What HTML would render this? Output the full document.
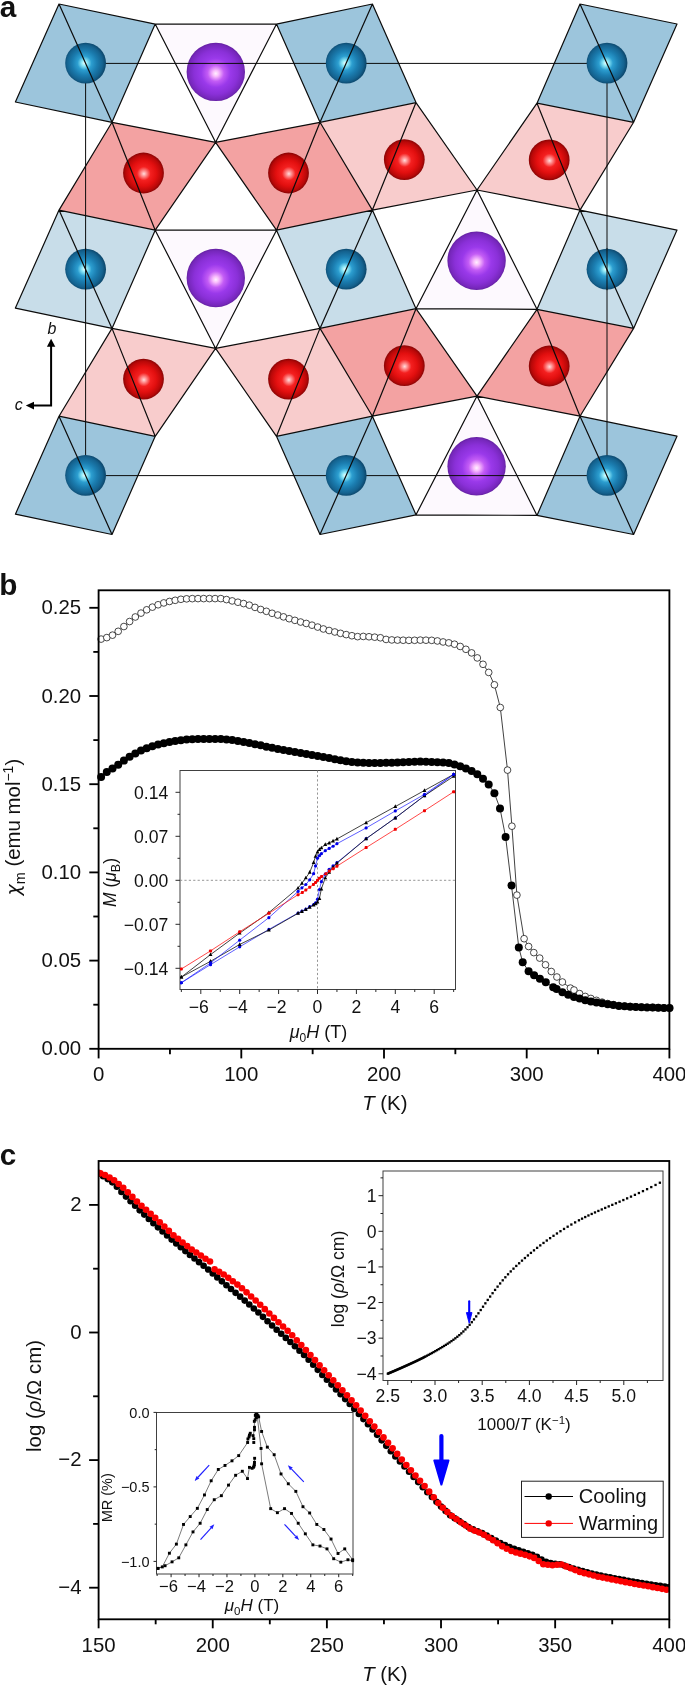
<!DOCTYPE html>
<html><head><meta charset="utf-8"><title>figure</title>
<style>
html,body{margin:0;padding:0;background:#fff;}
svg{display:block;will-change:transform;}
text{font-family:"Liberation Sans", sans-serif;fill:#111;}
.it{font-style:italic;}
</style></head>
<body>
<svg width="685" height="1685" viewBox="0 0 685 1685">
<defs>
<radialGradient id="gB" cx="0.48" cy="0.5" r="0.52" fx="0.47" fy="0.5">
<stop offset="0" stop-color="#eaffff"/><stop offset="0.13" stop-color="#8ee9f8"/>
<stop offset="0.33" stop-color="#2c9ed0"/><stop offset="0.58" stop-color="#1b7db0"/>
<stop offset="0.84" stop-color="#14628f"/><stop offset="1" stop-color="#0b4468"/>
</radialGradient>
<radialGradient id="gR" cx="0.5" cy="0.5" r="0.52" fx="0.51" fy="0.52">
<stop offset="0" stop-color="#ffdcdc"/><stop offset="0.12" stop-color="#ff9393"/>
<stop offset="0.32" stop-color="#f42020"/><stop offset="0.6" stop-color="#e20f0f"/>
<stop offset="0.84" stop-color="#b90808"/><stop offset="1" stop-color="#7a0303"/>
</radialGradient>
<radialGradient id="gP" cx="0.5" cy="0.5" r="0.52" fx="0.5" fy="0.53">
<stop offset="0" stop-color="#fff0ff"/><stop offset="0.10" stop-color="#f9bdfc"/>
<stop offset="0.27" stop-color="#c35cf5"/><stop offset="0.48" stop-color="#9a39ea"/>
<stop offset="0.72" stop-color="#8a30d8"/><stop offset="0.9" stop-color="#7627bb"/><stop offset="1" stop-color="#5a1d93"/>
</radialGradient>
</defs>
<g id="panelA">
<g stroke="none">
<polygon points="155.2,24.1 276.5,24.1 215.6,142.3" fill="#fdf9fe"/>
<polygon points="155.2,230.2 276.5,230.2 215.6,348.4" fill="#fdf9fe"/>
<polygon points="477,190 416,308.7 537,309.3" fill="#fdf9fe"/>
<polygon points="477,396.1 416,514.8 537,515.4" fill="#fdf9fe"/>
<polygon points="59,4 155.2,24.1 112,122.3 15.4,102" fill="#9cc5dc"/>
<polygon points="276.5,24.1 372.4,4 416,102.6 320,122.3" fill="#9cc5dc"/>
<polygon points="580,4 677,24 633.6,122.3 537,103.2" fill="#9cc5dc"/>
<polygon points="59,210.1 155.2,230.2 112,328.4 15.4,308.1" fill="#c8dde9"/>
<polygon points="276.5,230.2 372.4,210.1 416,308.7 320,328.4" fill="#c8dde9"/>
<polygon points="580,210.1 677,230.1 633.6,328.4 537,309.3" fill="#c8dde9"/>
<polygon points="59,416.2 155.2,436.3 112,534.5 15.4,514.2" fill="#9cc5dc"/>
<polygon points="276.5,436.3 372.4,416.2 416,514.8 320,534.5" fill="#9cc5dc"/>
<polygon points="580,416.2 677,436.2 633.6,534.5 537,515.4" fill="#9cc5dc"/>
<polygon points="112,122.3 215.6,142.3 155.2,230.2 59,210.1" fill="#f3a2a2"/>
<polygon points="215.6,142.3 320,122.3 372.4,210.1 276.5,230.2" fill="#f3a2a2"/>
<polygon points="320,122.3 416,102.6 477,190 372.4,210.1" fill="#f8cccc"/>
<polygon points="537,103.2 633.6,122.3 580,210.1 477,190" fill="#f8cccc"/>
<polygon points="112,328.4 215.6,348.4 155.2,436.3 59,416.2" fill="#f8cccc"/>
<polygon points="215.6,348.4 320,328.4 372.4,416.2 276.5,436.3" fill="#f8cccc"/>
<polygon points="320,328.4 416,308.7 477,396.1 372.4,416.2" fill="#f3a2a2"/>
<polygon points="537,309.3 633.6,328.4 580,416.2 477,396.1" fill="#f3a2a2"/>
</g>
<circle cx="215.8" cy="71.9" r="29.2" fill="url(#gP)"/>
<circle cx="215.8" cy="278" r="29.2" fill="url(#gP)"/>
<circle cx="476.6" cy="260.7" r="29.2" fill="url(#gP)"/>
<circle cx="476.6" cy="466.3" r="29.2" fill="url(#gP)"/>
<rect x="85.6" y="63.4" width="521.4" height="412.2" fill="none" stroke="#0c0c0c" stroke-width="1.0"/>
<circle cx="85.6" cy="63.1" r="20.4" fill="url(#gB)"/>
<circle cx="346.2" cy="63.1" r="20.4" fill="url(#gB)"/>
<circle cx="607" cy="63.1" r="20.4" fill="url(#gB)"/>
<circle cx="85.6" cy="269.2" r="20.4" fill="url(#gB)"/>
<circle cx="346.2" cy="269.2" r="20.4" fill="url(#gB)"/>
<circle cx="607" cy="269.2" r="20.4" fill="url(#gB)"/>
<circle cx="85.6" cy="475.3" r="20.4" fill="url(#gB)"/>
<circle cx="346.2" cy="475.3" r="20.4" fill="url(#gB)"/>
<circle cx="607" cy="475.3" r="20.4" fill="url(#gB)"/>
<line x1="85.6" y1="248.2" x2="85.6" y2="290.2" stroke="#0c0c0c" stroke-width="1.0"/>
<line x1="607" y1="248.2" x2="607" y2="290.2" stroke="#0c0c0c" stroke-width="1.0"/>
<circle cx="143.5" cy="173" r="20.4" fill="url(#gR)"/>
<circle cx="288.5" cy="173" r="20.4" fill="url(#gR)"/>
<circle cx="404.3" cy="159.6" r="20.4" fill="url(#gR)"/>
<circle cx="549.2" cy="159.9" r="20.4" fill="url(#gR)"/>
<circle cx="143.5" cy="379.1" r="20.4" fill="url(#gR)"/>
<circle cx="288.5" cy="379.1" r="20.4" fill="url(#gR)"/>
<circle cx="404.3" cy="365.7" r="20.4" fill="url(#gR)"/>
<circle cx="549.2" cy="366" r="20.4" fill="url(#gR)"/>
<path fill="none" stroke="#0c0c0c" stroke-width="1.2" stroke-linecap="round" d="M155.2,24.1L276.5,24.1M215.6,142.3L276.5,24.1M155.2,24.1L215.6,142.3M155.2,230.2L276.5,230.2M215.6,348.4L276.5,230.2M155.2,230.2L215.6,348.4M416,308.7L477,190M416,308.7L537,309.3M477,190L537,309.3M416,514.8L477,396.1M416,514.8L537,515.4M477,396.1L537,515.4M59,4L155.2,24.1M112,122.3L155.2,24.1M15.4,102L112,122.3M15.4,102L59,4M59,4L112,122.3M276.5,24.1L372.4,4M372.4,4L416,102.6M320,122.3L416,102.6M276.5,24.1L320,122.3M320,122.3L372.4,4M580,4L677,24M633.6,122.3L677,24M537,103.2L633.6,122.3M537,103.2L580,4M580,4L633.6,122.3M59,210.1L155.2,230.2M112,328.4L155.2,230.2M15.4,308.1L112,328.4M15.4,308.1L59,210.1M59,210.1L112,328.4M276.5,230.2L372.4,210.1M372.4,210.1L416,308.7M320,328.4L416,308.7M276.5,230.2L320,328.4M320,328.4L372.4,210.1M580,210.1L677,230.1M633.6,328.4L677,230.1M537,309.3L633.6,328.4M537,309.3L580,210.1M580,210.1L633.6,328.4M59,416.2L155.2,436.3M112,534.5L155.2,436.3M15.4,514.2L112,534.5M15.4,514.2L59,416.2M59,416.2L112,534.5M276.5,436.3L372.4,416.2M372.4,416.2L416,514.8M320,534.5L416,514.8M276.5,436.3L320,534.5M320,534.5L372.4,416.2M580,416.2L677,436.2M633.6,534.5L677,436.2M537,515.4L633.6,534.5M537,515.4L580,416.2M580,416.2L633.6,534.5M112,122.3L215.6,142.3M155.2,230.2L215.6,142.3M59,210.1L112,122.3M112,122.3L155.2,230.2M215.6,142.3L320,122.3M320,122.3L372.4,210.1M215.6,142.3L276.5,230.2M276.5,230.2L320,122.3M416,102.6L477,190M372.4,210.1L477,190M372.4,210.1L416,102.6M580,210.1L633.6,122.3M477,190L580,210.1M477,190L537,103.2M537,103.2L580,210.1M112,328.4L215.6,348.4M155.2,436.3L215.6,348.4M59,416.2L112,328.4M112,328.4L155.2,436.3M215.6,348.4L320,328.4M320,328.4L372.4,416.2M215.6,348.4L276.5,436.3M276.5,436.3L320,328.4M416,308.7L477,396.1M372.4,416.2L477,396.1M372.4,416.2L416,308.7M580,416.2L633.6,328.4M477,396.1L580,416.2M477,396.1L537,309.3M537,309.3L580,416.2"/>
<g stroke="#000" stroke-width="2" fill="none"><path d="M51.1,346 V405.6 H33"/></g>
<polygon points="51.1,338.8 55.3,346.8 46.9,346.8" fill="#000"/>
<polygon points="25.8,405.6 34,401.8 34,409.4" fill="#000"/>
<text x="47.6" y="334.2" font-size="16" class="it">b</text>
<text x="14.8" y="409.6" font-size="16" class="it">c</text>
<text x="-0.3" y="16.6" font-size="29.7" font-weight="bold" fill="#000">a</text>
</g>
<g id="panelB">
<rect x="180" y="770.5" width="275.5" height="219" fill="#fff" stroke="#404040" stroke-width="1"/>
<g stroke="#8a8a8a" stroke-width="0.9" stroke-dasharray="2.2,2.2" fill="none">
<line x1="317.5" y1="770.5" x2="317.5" y2="989.5"/>
<line x1="180" y1="880.3" x2="455.5" y2="880.3"/>
</g>
<g stroke="#2a2a2a" stroke-width="1" fill="none">
<line x1="181.35" y1="989.5" x2="181.35" y2="992"/>
<line x1="200.8" y1="989.5" x2="200.8" y2="994"/>
<line x1="220.25" y1="989.5" x2="220.25" y2="992"/>
<line x1="239.7" y1="989.5" x2="239.7" y2="994"/>
<line x1="259.15" y1="989.5" x2="259.15" y2="992"/>
<line x1="278.6" y1="989.5" x2="278.6" y2="994"/>
<line x1="298.05" y1="989.5" x2="298.05" y2="992"/>
<line x1="317.5" y1="989.5" x2="317.5" y2="994"/>
<line x1="336.95" y1="989.5" x2="336.95" y2="992"/>
<line x1="356.4" y1="989.5" x2="356.4" y2="994"/>
<line x1="375.85" y1="989.5" x2="375.85" y2="992"/>
<line x1="395.3" y1="989.5" x2="395.3" y2="994"/>
<line x1="414.75" y1="989.5" x2="414.75" y2="992"/>
<line x1="434.2" y1="989.5" x2="434.2" y2="994"/>
<line x1="453.65" y1="989.5" x2="453.65" y2="992"/>
<line x1="175.5" y1="968.3" x2="180" y2="968.3"/>
<line x1="177.5" y1="946.3" x2="180" y2="946.3"/>
<line x1="175.5" y1="924.3" x2="180" y2="924.3"/>
<line x1="177.5" y1="902.3" x2="180" y2="902.3"/>
<line x1="175.5" y1="880.3" x2="180" y2="880.3"/>
<line x1="177.5" y1="858.3" x2="180" y2="858.3"/>
<line x1="175.5" y1="836.3" x2="180" y2="836.3"/>
<line x1="177.5" y1="814.3" x2="180" y2="814.3"/>
<line x1="175.5" y1="792.3" x2="180" y2="792.3"/>
</g>
<text x="198.8" y="1013" font-size="17.6" text-anchor="middle">−6</text>
<text x="237.7" y="1013" font-size="17.6" text-anchor="middle">−4</text>
<text x="276.6" y="1013" font-size="17.6" text-anchor="middle">−2</text>
<text x="317.5" y="1013" font-size="17.6" text-anchor="middle">0</text>
<text x="356.4" y="1013" font-size="17.6" text-anchor="middle">2</text>
<text x="395.3" y="1013" font-size="17.6" text-anchor="middle">4</text>
<text x="434.2" y="1013" font-size="17.6" text-anchor="middle">6</text>
<text x="168.3" y="798.6" font-size="17.6" text-anchor="end">0.14</text>
<text x="168.3" y="842.6" font-size="17.6" text-anchor="end">0.07</text>
<text x="168.3" y="886.6" font-size="17.6" text-anchor="end">0.00</text>
<text x="168.3" y="930.6" font-size="17.6" text-anchor="end">−0.07</text>
<text x="168.3" y="974.6" font-size="17.6" text-anchor="end">−0.14</text>
<text transform="translate(116,882.5) rotate(-90)" font-size="17.5" text-anchor="middle"><tspan class="it">M</tspan> (<tspan class="it">μ</tspan><tspan font-size="12.5" dy="4">B</tspan><tspan dy="-4">)</tspan></text>
<text x="318.5" y="1037.5" font-size="18" text-anchor="middle"><tspan class="it">μ</tspan><tspan font-size="12" dy="4">0</tspan><tspan class="it" dy="-4">H</tspan> (T)</text>
<clipPath id="cpI"><rect x="180" y="770.5" width="277" height="219"/></clipPath>
<g clip-path="url(#cpI)">
<polyline points="453.65,774.39 424.48,795.76 395.3,817.95 366.12,838.69 336.95,862.57 333.06,865.91 329.17,869.24 325.28,874.2 321.39,881.68 319.44,889.48 317.5,899.16 315.56,902.93 313.61,904.5 309.72,906.7 305.83,909.09 301.94,911.1 298.05,912.99 268.88,929.39 239.7,946.87 210.53,964.65 181.35,982.76" fill="none" stroke="#1a1aff" stroke-width="0.7" stroke-linejoin="round"/>
<circle cx="453.65" cy="774.39" r="1.6" fill="#0000e6"/>
<circle cx="424.48" cy="795.76" r="1.6" fill="#0000e6"/>
<circle cx="395.3" cy="817.95" r="1.6" fill="#0000e6"/>
<circle cx="366.12" cy="838.69" r="1.6" fill="#0000e6"/>
<circle cx="336.95" cy="862.57" r="1.6" fill="#0000e6"/>
<circle cx="333.06" cy="865.91" r="1.6" fill="#0000e6"/>
<circle cx="329.17" cy="869.24" r="1.6" fill="#0000e6"/>
<circle cx="325.28" cy="874.2" r="1.6" fill="#0000e6"/>
<circle cx="321.39" cy="881.68" r="1.6" fill="#0000e6"/>
<circle cx="319.44" cy="889.48" r="1.6" fill="#0000e6"/>
<circle cx="317.5" cy="899.16" r="1.6" fill="#0000e6"/>
<circle cx="315.56" cy="902.93" r="1.6" fill="#0000e6"/>
<circle cx="313.61" cy="904.5" r="1.6" fill="#0000e6"/>
<circle cx="309.72" cy="906.7" r="1.6" fill="#0000e6"/>
<circle cx="305.83" cy="909.09" r="1.6" fill="#0000e6"/>
<circle cx="301.94" cy="911.1" r="1.6" fill="#0000e6"/>
<circle cx="298.05" cy="912.99" r="1.6" fill="#0000e6"/>
<circle cx="268.88" cy="929.39" r="1.6" fill="#0000e6"/>
<circle cx="239.7" cy="946.87" r="1.6" fill="#0000e6"/>
<circle cx="210.53" cy="964.65" r="1.6" fill="#0000e6"/>
<circle cx="181.35" cy="982.76" r="1.6" fill="#0000e6"/>
<polyline points="453.65,774.39 424.48,790.48 395.3,806.57 366.12,822.66 336.95,839 333.06,840.95 329.17,842.9 325.28,844.53 321.39,847.87 319.44,849.5 317.5,852.01 315.56,856.23 313.61,862.57 309.72,872.32 305.83,877.85 301.94,883.13 298.05,888.09 268.88,912.61 239.7,933.1 210.53,954.6 181.35,977.1" fill="none" stroke="#111" stroke-width="0.8" stroke-linejoin="round"/>
<polygon points="453.65,772.19 451.75,775.89 455.55,775.89" fill="#000"/>
<polygon points="424.48,788.28 422.58,791.98 426.38,791.98" fill="#000"/>
<polygon points="395.3,804.37 393.4,808.07 397.2,808.07" fill="#000"/>
<polygon points="366.12,820.46 364.23,824.16 368.02,824.16" fill="#000"/>
<polygon points="336.95,836.8 335.05,840.5 338.85,840.5" fill="#000"/>
<polygon points="333.06,838.75 331.16,842.45 334.96,842.45" fill="#000"/>
<polygon points="329.17,840.7 327.27,844.4 331.07,844.4" fill="#000"/>
<polygon points="325.28,842.33 323.38,846.03 327.18,846.03" fill="#000"/>
<polygon points="321.39,845.67 319.49,849.37 323.29,849.37" fill="#000"/>
<polygon points="319.44,847.3 317.55,851 321.34,851" fill="#000"/>
<polygon points="317.5,849.81 315.6,853.51 319.4,853.51" fill="#000"/>
<polygon points="315.56,854.03 313.66,857.73 317.45,857.73" fill="#000"/>
<polygon points="313.61,860.37 311.71,864.07 315.51,864.07" fill="#000"/>
<polygon points="309.72,870.12 307.82,873.82 311.62,873.82" fill="#000"/>
<polygon points="305.83,875.65 303.93,879.35 307.73,879.35" fill="#000"/>
<polygon points="301.94,880.93 300.04,884.63 303.84,884.63" fill="#000"/>
<polygon points="298.05,885.89 296.15,889.59 299.95,889.59" fill="#000"/>
<polygon points="268.88,910.41 266.98,914.11 270.77,914.11" fill="#000"/>
<polygon points="239.7,930.9 237.8,934.6 241.6,934.6" fill="#000"/>
<polygon points="210.53,952.4 208.62,956.1 212.43,956.1" fill="#000"/>
<polygon points="181.35,974.9 179.45,978.6 183.25,978.6" fill="#000"/>
<polyline points="453.65,776.33 424.48,795.76 395.3,817.95 366.12,838.69 336.95,863.14 333.06,867.29 329.17,872.32 325.28,877.85 321.39,888.91 319.44,898.4 317.5,901.99 315.56,903.87 313.61,905 309.72,907.2 305.83,909.47 301.94,911.41 298.05,913.3 268.88,930.08 239.7,944.48 210.53,961.32 181.35,977.1" fill="none" stroke="#111" stroke-width="0.8" stroke-linejoin="round"/>
<polygon points="453.65,774.13 451.75,777.83 455.55,777.83" fill="#000"/>
<polygon points="424.48,793.56 422.58,797.26 426.38,797.26" fill="#000"/>
<polygon points="395.3,815.75 393.4,819.45 397.2,819.45" fill="#000"/>
<polygon points="366.12,836.49 364.23,840.19 368.02,840.19" fill="#000"/>
<polygon points="336.95,860.94 335.05,864.64 338.85,864.64" fill="#000"/>
<polygon points="333.06,865.09 331.16,868.79 334.96,868.79" fill="#000"/>
<polygon points="329.17,870.12 327.27,873.82 331.07,873.82" fill="#000"/>
<polygon points="325.28,875.65 323.38,879.35 327.18,879.35" fill="#000"/>
<polygon points="321.39,886.71 319.49,890.41 323.29,890.41" fill="#000"/>
<polygon points="319.44,896.2 317.55,899.9 321.34,899.9" fill="#000"/>
<polygon points="317.5,899.79 315.6,903.49 319.4,903.49" fill="#000"/>
<polygon points="315.56,901.67 313.66,905.37 317.45,905.37" fill="#000"/>
<polygon points="313.61,902.8 311.71,906.5 315.51,906.5" fill="#000"/>
<polygon points="309.72,905 307.82,908.7 311.62,908.7" fill="#000"/>
<polygon points="305.83,907.27 303.93,910.97 307.73,910.97" fill="#000"/>
<polygon points="301.94,909.21 300.04,912.91 303.84,912.91" fill="#000"/>
<polygon points="298.05,911.1 296.15,914.8 299.95,914.8" fill="#000"/>
<polygon points="268.88,927.88 266.98,931.58 270.77,931.58" fill="#000"/>
<polygon points="239.7,942.28 237.8,945.98 241.6,945.98" fill="#000"/>
<polygon points="210.53,959.12 208.62,962.82 212.43,962.82" fill="#000"/>
<polygon points="181.35,974.9 179.45,978.6 183.25,978.6" fill="#000"/>
<polyline points="453.65,774.39 424.48,794.37 395.3,810.97 366.12,827.94 336.95,843.72 333.06,846.23 329.17,848.43 325.28,850.63 321.39,853.71 319.44,855.66 317.5,858.17 315.56,865.91 313.61,873.7 309.72,879.8 305.83,884.51 301.94,887.84 298.05,891.43 268.88,917.64 239.7,940.14 210.53,962.96 181.35,982.76" fill="none" stroke="#1a1aff" stroke-width="0.7" stroke-linejoin="round"/>
<circle cx="453.65" cy="774.39" r="1.6" fill="#0000e6"/>
<circle cx="424.48" cy="794.37" r="1.6" fill="#0000e6"/>
<circle cx="395.3" cy="810.97" r="1.6" fill="#0000e6"/>
<circle cx="366.12" cy="827.94" r="1.6" fill="#0000e6"/>
<circle cx="336.95" cy="843.72" r="1.6" fill="#0000e6"/>
<circle cx="333.06" cy="846.23" r="1.6" fill="#0000e6"/>
<circle cx="329.17" cy="848.43" r="1.6" fill="#0000e6"/>
<circle cx="325.28" cy="850.63" r="1.6" fill="#0000e6"/>
<circle cx="321.39" cy="853.71" r="1.6" fill="#0000e6"/>
<circle cx="319.44" cy="855.66" r="1.6" fill="#0000e6"/>
<circle cx="317.5" cy="858.17" r="1.6" fill="#0000e6"/>
<circle cx="315.56" cy="865.91" r="1.6" fill="#0000e6"/>
<circle cx="313.61" cy="873.7" r="1.6" fill="#0000e6"/>
<circle cx="309.72" cy="879.8" r="1.6" fill="#0000e6"/>
<circle cx="305.83" cy="884.51" r="1.6" fill="#0000e6"/>
<circle cx="301.94" cy="887.84" r="1.6" fill="#0000e6"/>
<circle cx="298.05" cy="891.43" r="1.6" fill="#0000e6"/>
<circle cx="268.88" cy="917.64" r="1.6" fill="#0000e6"/>
<circle cx="239.7" cy="940.14" r="1.6" fill="#0000e6"/>
<circle cx="210.53" cy="962.96" r="1.6" fill="#0000e6"/>
<circle cx="181.35" cy="982.76" r="1.6" fill="#0000e6"/>
<polyline points="181.35,968.99 210.53,950.89 239.7,931.78 268.88,913.3 298.05,894.69 302.33,892.49 305.83,889.98 309.72,887.21 313.42,884.45 315.56,882.5 317.5,880.3 319.44,878.16 321.58,876.4 325.86,873.64 329.36,871.12 333.25,868.67 336.95,866.16 366.12,847.61 395.3,829.32 424.48,810.72 453.65,791.8" fill="none" stroke="#ff1a1a" stroke-width="0.8" stroke-linejoin="round"/>
<rect x="179.85" y="967.49" width="3" height="3" rx="0.9" fill="#f00000"/>
<rect x="209.03" y="949.39" width="3" height="3" rx="0.9" fill="#f00000"/>
<rect x="238.2" y="930.28" width="3" height="3" rx="0.9" fill="#f00000"/>
<rect x="267.38" y="911.8" width="3" height="3" rx="0.9" fill="#f00000"/>
<rect x="296.55" y="893.19" width="3" height="3" rx="0.9" fill="#f00000"/>
<rect x="300.83" y="890.99" width="3" height="3" rx="0.9" fill="#f00000"/>
<rect x="304.33" y="888.48" width="3" height="3" rx="0.9" fill="#f00000"/>
<rect x="308.22" y="885.71" width="3" height="3" rx="0.9" fill="#f00000"/>
<rect x="311.92" y="882.95" width="3" height="3" rx="0.9" fill="#f00000"/>
<rect x="314.06" y="881" width="3" height="3" rx="0.9" fill="#f00000"/>
<rect x="316" y="878.8" width="3" height="3" rx="0.9" fill="#f00000"/>
<rect x="317.94" y="876.66" width="3" height="3" rx="0.9" fill="#f00000"/>
<rect x="320.08" y="874.9" width="3" height="3" rx="0.9" fill="#f00000"/>
<rect x="324.36" y="872.14" width="3" height="3" rx="0.9" fill="#f00000"/>
<rect x="327.86" y="869.62" width="3" height="3" rx="0.9" fill="#f00000"/>
<rect x="331.75" y="867.17" width="3" height="3" rx="0.9" fill="#f00000"/>
<rect x="335.45" y="864.66" width="3" height="3" rx="0.9" fill="#f00000"/>
<rect x="364.62" y="846.11" width="3" height="3" rx="0.9" fill="#f00000"/>
<rect x="393.8" y="827.82" width="3" height="3" rx="0.9" fill="#f00000"/>
<rect x="422.98" y="809.22" width="3" height="3" rx="0.9" fill="#f00000"/>
<rect x="452.15" y="790.3" width="3" height="3" rx="0.9" fill="#f00000"/>
</g>
<polyline points="101.1,639.1 106.8,637.59 112.5,635.15 118.2,631.33 123.9,626.53 129.6,621.53 135.3,616.98 141,613.11 146.7,609.81 152.4,607.13 158.1,604.76 163.8,602.92 169.5,601.46 175.2,600.31 180.9,599.29 186.6,598.84 192.3,598.65 198,598.6 203.7,598.6 209.4,598.6 215.1,598.6 220.8,598.6 226.5,599.59 232.2,600.91 237.9,602.23 243.6,603.58 249.3,605.16 255,607.39 260.7,609.48 266.4,611.32 272.1,613.28 277.8,615.03 283.5,616.87 289.2,618.71 294.9,620.35 300.6,622.03 306.3,623.46 312,625.18 317.7,627.07 323.4,628.97 329.1,630.5 334.8,631.99 340.5,633.34 346.2,634.6 351.9,635.74 357.6,636.64 363.3,636.44 369,636.76 374.7,637.18 380.4,637.78 386.1,639.44 391.8,639.93 397.5,640.1 403.2,640.23 408.9,640.36 414.6,640.29 420.3,640.12 426,640.21 431.7,640.34 437.4,640.95 443.1,641.95 448.8,642.85 454.5,644.2 460.2,646.46 465.9,649.3 471.6,652.89 477.3,657.91 483,664.3 488.7,672.42 494.4,684.8 500.3,707.5 507.5,770.1 511.9,826.2 516.9,895.1 524.1,938.7 528.6,946.5 533.8,952.6 539.7,958.1 545.5,964.8 551.3,971.5 556.9,977 562.4,982 570.4,988.1 574,990 579.6,993.6 585.22,996.44 590.84,998.45 596.46,1000.38 602.08,1002.13 607.7,1003.55 613.32,1004.59 618.94,1005.51 624.56,1006.14 630.18,1006.47 635.8,1006.77 641.42,1007.05 647.04,1007.27 652.66,1007.48 658.28,1007.7 663.9,1007.91 669.52,1008.1" fill="none" stroke="#111" stroke-width="0.8"/>
<g fill="#fff" stroke="#1a1a1a" stroke-width="0.8">
<circle cx="101.1" cy="639.1" r="3.35"/>
<circle cx="106.8" cy="637.59" r="3.35"/>
<circle cx="112.5" cy="635.15" r="3.35"/>
<circle cx="118.2" cy="631.33" r="3.35"/>
<circle cx="123.9" cy="626.53" r="3.35"/>
<circle cx="129.6" cy="621.53" r="3.35"/>
<circle cx="135.3" cy="616.98" r="3.35"/>
<circle cx="141" cy="613.11" r="3.35"/>
<circle cx="146.7" cy="609.81" r="3.35"/>
<circle cx="152.4" cy="607.13" r="3.35"/>
<circle cx="158.1" cy="604.76" r="3.35"/>
<circle cx="163.8" cy="602.92" r="3.35"/>
<circle cx="169.5" cy="601.46" r="3.35"/>
<circle cx="175.2" cy="600.31" r="3.35"/>
<circle cx="180.9" cy="599.29" r="3.35"/>
<circle cx="186.6" cy="598.84" r="3.35"/>
<circle cx="192.3" cy="598.65" r="3.35"/>
<circle cx="198" cy="598.6" r="3.35"/>
<circle cx="203.7" cy="598.6" r="3.35"/>
<circle cx="209.4" cy="598.6" r="3.35"/>
<circle cx="215.1" cy="598.6" r="3.35"/>
<circle cx="220.8" cy="598.6" r="3.35"/>
<circle cx="226.5" cy="599.59" r="3.35"/>
<circle cx="232.2" cy="600.91" r="3.35"/>
<circle cx="237.9" cy="602.23" r="3.35"/>
<circle cx="243.6" cy="603.58" r="3.35"/>
<circle cx="249.3" cy="605.16" r="3.35"/>
<circle cx="255" cy="607.39" r="3.35"/>
<circle cx="260.7" cy="609.48" r="3.35"/>
<circle cx="266.4" cy="611.32" r="3.35"/>
<circle cx="272.1" cy="613.28" r="3.35"/>
<circle cx="277.8" cy="615.03" r="3.35"/>
<circle cx="283.5" cy="616.87" r="3.35"/>
<circle cx="289.2" cy="618.71" r="3.35"/>
<circle cx="294.9" cy="620.35" r="3.35"/>
<circle cx="300.6" cy="622.03" r="3.35"/>
<circle cx="306.3" cy="623.46" r="3.35"/>
<circle cx="312" cy="625.18" r="3.35"/>
<circle cx="317.7" cy="627.07" r="3.35"/>
<circle cx="323.4" cy="628.97" r="3.35"/>
<circle cx="329.1" cy="630.5" r="3.35"/>
<circle cx="334.8" cy="631.99" r="3.35"/>
<circle cx="340.5" cy="633.34" r="3.35"/>
<circle cx="346.2" cy="634.6" r="3.35"/>
<circle cx="351.9" cy="635.74" r="3.35"/>
<circle cx="357.6" cy="636.64" r="3.35"/>
<circle cx="363.3" cy="636.44" r="3.35"/>
<circle cx="369" cy="636.76" r="3.35"/>
<circle cx="374.7" cy="637.18" r="3.35"/>
<circle cx="380.4" cy="637.78" r="3.35"/>
<circle cx="386.1" cy="639.44" r="3.35"/>
<circle cx="391.8" cy="639.93" r="3.35"/>
<circle cx="397.5" cy="640.1" r="3.35"/>
<circle cx="403.2" cy="640.23" r="3.35"/>
<circle cx="408.9" cy="640.36" r="3.35"/>
<circle cx="414.6" cy="640.29" r="3.35"/>
<circle cx="420.3" cy="640.12" r="3.35"/>
<circle cx="426" cy="640.21" r="3.35"/>
<circle cx="431.7" cy="640.34" r="3.35"/>
<circle cx="437.4" cy="640.95" r="3.35"/>
<circle cx="443.1" cy="641.95" r="3.35"/>
<circle cx="448.8" cy="642.85" r="3.35"/>
<circle cx="454.5" cy="644.2" r="3.35"/>
<circle cx="460.2" cy="646.46" r="3.35"/>
<circle cx="465.9" cy="649.3" r="3.35"/>
<circle cx="471.6" cy="652.89" r="3.35"/>
<circle cx="477.3" cy="657.91" r="3.35"/>
<circle cx="483" cy="664.3" r="3.35"/>
<circle cx="488.7" cy="672.42" r="3.35"/>
<circle cx="494.4" cy="684.8" r="3.35"/>
<circle cx="500.3" cy="707.5" r="3.35"/>
<circle cx="507.5" cy="770.1" r="3.35"/>
<circle cx="511.9" cy="826.2" r="3.35"/>
<circle cx="516.9" cy="895.1" r="3.35"/>
<circle cx="524.1" cy="938.7" r="3.35"/>
<circle cx="528.6" cy="946.5" r="3.35"/>
<circle cx="533.8" cy="952.6" r="3.35"/>
<circle cx="539.7" cy="958.1" r="3.35"/>
<circle cx="545.5" cy="964.8" r="3.35"/>
<circle cx="551.3" cy="971.5" r="3.35"/>
<circle cx="556.9" cy="977" r="3.35"/>
<circle cx="562.4" cy="982" r="3.35"/>
<circle cx="570.4" cy="988.1" r="3.35"/>
<circle cx="574" cy="990" r="3.35"/>
<circle cx="579.6" cy="993.6" r="3.35"/>
<circle cx="585.22" cy="996.44" r="3.35"/>
<circle cx="590.84" cy="998.45" r="3.35"/>
<circle cx="596.46" cy="1000.38" r="3.35"/>
<circle cx="602.08" cy="1002.13" r="3.35"/>
<circle cx="607.7" cy="1003.55" r="3.35"/>
<circle cx="613.32" cy="1004.59" r="3.35"/>
<circle cx="618.94" cy="1005.51" r="3.35"/>
<circle cx="624.56" cy="1006.14" r="3.35"/>
<circle cx="630.18" cy="1006.47" r="3.35"/>
<circle cx="635.8" cy="1006.77" r="3.35"/>
<circle cx="641.42" cy="1007.05" r="3.35"/>
<circle cx="647.04" cy="1007.27" r="3.35"/>
<circle cx="652.66" cy="1007.48" r="3.35"/>
<circle cx="658.28" cy="1007.7" r="3.35"/>
<circle cx="663.9" cy="1007.91" r="3.35"/>
<circle cx="669.52" cy="1008.1" r="3.35"/>
</g>
<polyline points="101.1,777.1 106.8,772.02 112.5,768.57 118.2,764.63 123.9,760.59 129.6,756.81 135.3,753.41 141,750.56 146.7,748.31 152.4,746.37 158.1,744.62 163.8,743.14 169.5,742 175.2,740.99 180.9,740.24 186.6,739.59 192.3,739.2 198,739.1 203.7,739.1 209.4,739.1 215.1,739.1 220.8,739.1 226.5,739.43 232.2,739.97 237.9,740.97 243.6,742.03 249.3,743 255,744.23 260.7,745.29 266.4,746.67 272.1,747.74 277.8,748.99 283.5,749.99 289.2,751.03 294.9,752.04 300.6,753.04 306.3,754.11 312,755.12 317.7,756.08 323.4,757.02 329.1,758.04 334.8,759.19 340.5,760.33 346.2,761.18 351.9,762.03 357.6,762.5 363.3,762.8 369,763 374.7,763 380.4,763 386.1,762.84 391.8,762.67 397.5,762.44 403.2,762.19 408.9,761.96 414.6,761.79 420.3,761.62 426,761.75 431.7,761.92 437.4,762.13 443.1,762.38 448.8,763.04 454.5,764.4 460.2,766.27 465.9,768.39 471.6,770.91 477.3,774.24 483,778.7 488.7,784.55 494.4,793.2 500,808.4 505.6,836.9 511.5,885.5 518.8,947.6 522.7,962.3 528.6,971.2 534.1,975.3 539.9,978.7 545.8,982.3 553.2,987.3 556.6,988.9 562.4,992.3 568.2,994.8 574,997 579.6,998.6 585.22,1000.32 590.84,1001.43 596.46,1002.54 602.08,1003.37 607.7,1004.17 613.32,1004.99 618.94,1005.91 624.56,1006.36 630.18,1006.67 635.8,1006.97 641.42,1007.24 647.04,1007.42 652.66,1007.59 658.28,1007.77 663.9,1007.94 669.52,1008.1" fill="none" stroke="#111" stroke-width="0.8"/>
<g fill="#000">
<circle cx="101.1" cy="777.1" r="4.0"/>
<circle cx="106.8" cy="772.02" r="4.0"/>
<circle cx="112.5" cy="768.57" r="4.0"/>
<circle cx="118.2" cy="764.63" r="4.0"/>
<circle cx="123.9" cy="760.59" r="4.0"/>
<circle cx="129.6" cy="756.81" r="4.0"/>
<circle cx="135.3" cy="753.41" r="4.0"/>
<circle cx="141" cy="750.56" r="4.0"/>
<circle cx="146.7" cy="748.31" r="4.0"/>
<circle cx="152.4" cy="746.37" r="4.0"/>
<circle cx="158.1" cy="744.62" r="4.0"/>
<circle cx="163.8" cy="743.14" r="4.0"/>
<circle cx="169.5" cy="742" r="4.0"/>
<circle cx="175.2" cy="740.99" r="4.0"/>
<circle cx="180.9" cy="740.24" r="4.0"/>
<circle cx="186.6" cy="739.59" r="4.0"/>
<circle cx="192.3" cy="739.2" r="4.0"/>
<circle cx="198" cy="739.1" r="4.0"/>
<circle cx="203.7" cy="739.1" r="4.0"/>
<circle cx="209.4" cy="739.1" r="4.0"/>
<circle cx="215.1" cy="739.1" r="4.0"/>
<circle cx="220.8" cy="739.1" r="4.0"/>
<circle cx="226.5" cy="739.43" r="4.0"/>
<circle cx="232.2" cy="739.97" r="4.0"/>
<circle cx="237.9" cy="740.97" r="4.0"/>
<circle cx="243.6" cy="742.03" r="4.0"/>
<circle cx="249.3" cy="743" r="4.0"/>
<circle cx="255" cy="744.23" r="4.0"/>
<circle cx="260.7" cy="745.29" r="4.0"/>
<circle cx="266.4" cy="746.67" r="4.0"/>
<circle cx="272.1" cy="747.74" r="4.0"/>
<circle cx="277.8" cy="748.99" r="4.0"/>
<circle cx="283.5" cy="749.99" r="4.0"/>
<circle cx="289.2" cy="751.03" r="4.0"/>
<circle cx="294.9" cy="752.04" r="4.0"/>
<circle cx="300.6" cy="753.04" r="4.0"/>
<circle cx="306.3" cy="754.11" r="4.0"/>
<circle cx="312" cy="755.12" r="4.0"/>
<circle cx="317.7" cy="756.08" r="4.0"/>
<circle cx="323.4" cy="757.02" r="4.0"/>
<circle cx="329.1" cy="758.04" r="4.0"/>
<circle cx="334.8" cy="759.19" r="4.0"/>
<circle cx="340.5" cy="760.33" r="4.0"/>
<circle cx="346.2" cy="761.18" r="4.0"/>
<circle cx="351.9" cy="762.03" r="4.0"/>
<circle cx="357.6" cy="762.5" r="4.0"/>
<circle cx="363.3" cy="762.8" r="4.0"/>
<circle cx="369" cy="763" r="4.0"/>
<circle cx="374.7" cy="763" r="4.0"/>
<circle cx="380.4" cy="763" r="4.0"/>
<circle cx="386.1" cy="762.84" r="4.0"/>
<circle cx="391.8" cy="762.67" r="4.0"/>
<circle cx="397.5" cy="762.44" r="4.0"/>
<circle cx="403.2" cy="762.19" r="4.0"/>
<circle cx="408.9" cy="761.96" r="4.0"/>
<circle cx="414.6" cy="761.79" r="4.0"/>
<circle cx="420.3" cy="761.62" r="4.0"/>
<circle cx="426" cy="761.75" r="4.0"/>
<circle cx="431.7" cy="761.92" r="4.0"/>
<circle cx="437.4" cy="762.13" r="4.0"/>
<circle cx="443.1" cy="762.38" r="4.0"/>
<circle cx="448.8" cy="763.04" r="4.0"/>
<circle cx="454.5" cy="764.4" r="4.0"/>
<circle cx="460.2" cy="766.27" r="4.0"/>
<circle cx="465.9" cy="768.39" r="4.0"/>
<circle cx="471.6" cy="770.91" r="4.0"/>
<circle cx="477.3" cy="774.24" r="4.0"/>
<circle cx="483" cy="778.7" r="4.0"/>
<circle cx="488.7" cy="784.55" r="4.0"/>
<circle cx="494.4" cy="793.2" r="4.0"/>
<circle cx="500" cy="808.4" r="4.0"/>
<circle cx="505.6" cy="836.9" r="4.0"/>
<circle cx="511.5" cy="885.5" r="4.0"/>
<circle cx="518.8" cy="947.6" r="4.0"/>
<circle cx="522.7" cy="962.3" r="4.0"/>
<circle cx="528.6" cy="971.2" r="4.0"/>
<circle cx="534.1" cy="975.3" r="4.0"/>
<circle cx="539.9" cy="978.7" r="4.0"/>
<circle cx="545.8" cy="982.3" r="4.0"/>
<circle cx="553.2" cy="987.3" r="4.0"/>
<circle cx="556.6" cy="988.9" r="4.0"/>
<circle cx="562.4" cy="992.3" r="4.0"/>
<circle cx="568.2" cy="994.8" r="4.0"/>
<circle cx="574" cy="997" r="4.0"/>
<circle cx="579.6" cy="998.6" r="4.0"/>
<circle cx="585.22" cy="1000.32" r="4.0"/>
<circle cx="590.84" cy="1001.43" r="4.0"/>
<circle cx="596.46" cy="1002.54" r="4.0"/>
<circle cx="602.08" cy="1003.37" r="4.0"/>
<circle cx="607.7" cy="1004.17" r="4.0"/>
<circle cx="613.32" cy="1004.99" r="4.0"/>
<circle cx="618.94" cy="1005.91" r="4.0"/>
<circle cx="624.56" cy="1006.36" r="4.0"/>
<circle cx="630.18" cy="1006.67" r="4.0"/>
<circle cx="635.8" cy="1006.97" r="4.0"/>
<circle cx="641.42" cy="1007.24" r="4.0"/>
<circle cx="647.04" cy="1007.42" r="4.0"/>
<circle cx="652.66" cy="1007.59" r="4.0"/>
<circle cx="658.28" cy="1007.77" r="4.0"/>
<circle cx="663.9" cy="1007.94" r="4.0"/>
<circle cx="669.52" cy="1008.1" r="4.0"/>
</g>
<rect x="98.6" y="590.3" width="570.8" height="458.5" fill="none" stroke="#000" stroke-width="1.85"/>
<g stroke="#000" stroke-width="1.85" fill="none">
<line x1="98.6" y1="1048.8" x2="98.6" y2="1058.4"/>
<line x1="169.95" y1="1048.8" x2="169.95" y2="1054.2"/>
<line x1="241.3" y1="1048.8" x2="241.3" y2="1058.4"/>
<line x1="312.65" y1="1048.8" x2="312.65" y2="1054.2"/>
<line x1="384" y1="1048.8" x2="384" y2="1058.4"/>
<line x1="455.35" y1="1048.8" x2="455.35" y2="1054.2"/>
<line x1="526.7" y1="1048.8" x2="526.7" y2="1058.4"/>
<line x1="598.05" y1="1048.8" x2="598.05" y2="1054.2"/>
<line x1="669.4" y1="1048.8" x2="669.4" y2="1058.4"/>
<line x1="89.3" y1="1048.8" x2="98.6" y2="1048.8"/>
<line x1="93.3" y1="1004.7" x2="98.6" y2="1004.7"/>
<line x1="89.3" y1="960.6" x2="98.6" y2="960.6"/>
<line x1="93.3" y1="916.5" x2="98.6" y2="916.5"/>
<line x1="89.3" y1="872.4" x2="98.6" y2="872.4"/>
<line x1="93.3" y1="828.3" x2="98.6" y2="828.3"/>
<line x1="89.3" y1="784.2" x2="98.6" y2="784.2"/>
<line x1="93.3" y1="740.1" x2="98.6" y2="740.1"/>
<line x1="89.3" y1="696" x2="98.6" y2="696"/>
<line x1="93.3" y1="651.9" x2="98.6" y2="651.9"/>
<line x1="89.3" y1="607.8" x2="98.6" y2="607.8"/>
</g>
<text x="98.6" y="1080.7" font-size="20.4" text-anchor="middle">0</text>
<text x="241.3" y="1080.7" font-size="20.4" text-anchor="middle">100</text>
<text x="384" y="1080.7" font-size="20.4" text-anchor="middle">200</text>
<text x="526.7" y="1080.7" font-size="20.4" text-anchor="middle">300</text>
<text x="669.4" y="1080.7" font-size="20.4" text-anchor="middle">400</text>
<text x="81.2" y="1055.3" font-size="20.4" text-anchor="end">0.00</text>
<text x="81.2" y="967.1" font-size="20.4" text-anchor="end">0.05</text>
<text x="81.2" y="878.9" font-size="20.4" text-anchor="end">0.10</text>
<text x="81.2" y="790.7" font-size="20.4" text-anchor="end">0.15</text>
<text x="81.2" y="702.5" font-size="20.4" text-anchor="end">0.20</text>
<text x="81.2" y="614.3" font-size="20.4" text-anchor="end">0.25</text>
<text x="384.8" y="1110.4" font-size="20.4" text-anchor="middle"><tspan class="it">T</tspan> (K)</text>
<text transform="translate(20,827.2) rotate(-90)" font-size="20.4" text-anchor="middle"><tspan font-family="DejaVu Sans, sans-serif" font-style="italic" font-size="19">χ</tspan><tspan font-size="14.5" dy="4.5">m</tspan><tspan dy="-4.5"> (emu mol</tspan><tspan font-size="14" dy="-7.5">−1</tspan><tspan dy="7.5">)</tspan></text>
<text x="-0.75" y="595.2" font-size="29.7" font-weight="bold" fill="#000">b</text>
</g>
<g id="panelC">
<rect x="383" y="1171" width="280" height="209.5" fill="#fff" stroke="#404040" stroke-width="1"/>
<g stroke="#222" stroke-width="1" fill="none">
<line x1="387.8" y1="1380.5" x2="387.8" y2="1385"/>
<line x1="411.4" y1="1380.5" x2="411.4" y2="1383"/>
<line x1="435" y1="1380.5" x2="435" y2="1385"/>
<line x1="458.6" y1="1380.5" x2="458.6" y2="1383"/>
<line x1="482.2" y1="1380.5" x2="482.2" y2="1385"/>
<line x1="505.8" y1="1380.5" x2="505.8" y2="1383"/>
<line x1="529.4" y1="1380.5" x2="529.4" y2="1385"/>
<line x1="553" y1="1380.5" x2="553" y2="1383"/>
<line x1="576.6" y1="1380.5" x2="576.6" y2="1385"/>
<line x1="600.2" y1="1380.5" x2="600.2" y2="1383"/>
<line x1="623.8" y1="1380.5" x2="623.8" y2="1385"/>
<line x1="647.4" y1="1380.5" x2="647.4" y2="1383"/>
<line x1="378.5" y1="1373.78" x2="383" y2="1373.78"/>
<line x1="380.5" y1="1355.97" x2="383" y2="1355.97"/>
<line x1="378.5" y1="1338.16" x2="383" y2="1338.16"/>
<line x1="380.5" y1="1320.35" x2="383" y2="1320.35"/>
<line x1="378.5" y1="1302.54" x2="383" y2="1302.54"/>
<line x1="380.5" y1="1284.73" x2="383" y2="1284.73"/>
<line x1="378.5" y1="1266.92" x2="383" y2="1266.92"/>
<line x1="380.5" y1="1249.11" x2="383" y2="1249.11"/>
<line x1="378.5" y1="1231.3" x2="383" y2="1231.3"/>
<line x1="380.5" y1="1213.49" x2="383" y2="1213.49"/>
<line x1="378.5" y1="1195.68" x2="383" y2="1195.68"/>
<line x1="380.5" y1="1177.87" x2="383" y2="1177.87"/>
</g>
<text x="387.8" y="1402.3" font-size="17.6" text-anchor="middle">2.5</text>
<text x="435" y="1402.3" font-size="17.6" text-anchor="middle">3.0</text>
<text x="482.2" y="1402.3" font-size="17.6" text-anchor="middle">3.5</text>
<text x="529.4" y="1402.3" font-size="17.6" text-anchor="middle">4.0</text>
<text x="576.6" y="1402.3" font-size="17.6" text-anchor="middle">4.5</text>
<text x="623.8" y="1402.3" font-size="17.6" text-anchor="middle">5.0</text>
<text x="376.5" y="1201.98" font-size="17.6" text-anchor="end">1</text>
<text x="376.5" y="1237.6" font-size="17.6" text-anchor="end">0</text>
<text x="376.5" y="1273.22" font-size="17.6" text-anchor="end">−1</text>
<text x="376.5" y="1308.84" font-size="17.6" text-anchor="end">−2</text>
<text x="376.5" y="1344.46" font-size="17.6" text-anchor="end">−3</text>
<text x="376.5" y="1380.08" font-size="17.6" text-anchor="end">−4</text>
<text transform="translate(344.2,1279) rotate(-90)" font-size="17.6" text-anchor="middle">log (<tspan class="it">ρ</tspan>/Ω cm)</text>
<text x="524" y="1429.5" font-size="17" text-anchor="middle">1000/<tspan class="it">T</tspan> (K<tspan font-size="11.5" dy="-6">−1</tspan><tspan dy="6">)</tspan></text>
<g fill="#000">
<rect x="386.7" y="1372.6" width="2.2" height="2.2"/>
<rect x="387.29" y="1372.35" width="2.2" height="2.2"/>
<rect x="387.89" y="1372.09" width="2.2" height="2.2"/>
<rect x="388.48" y="1371.84" width="2.2" height="2.2"/>
<rect x="389.08" y="1371.58" width="2.2" height="2.2"/>
<rect x="389.69" y="1371.33" width="2.2" height="2.2"/>
<rect x="390.29" y="1371.07" width="2.2" height="2.2"/>
<rect x="390.9" y="1370.81" width="2.2" height="2.2"/>
<rect x="391.52" y="1370.54" width="2.2" height="2.2"/>
<rect x="392.13" y="1370.28" width="2.2" height="2.2"/>
<rect x="392.75" y="1370.02" width="2.2" height="2.2"/>
<rect x="393.37" y="1369.75" width="2.2" height="2.2"/>
<rect x="394" y="1369.48" width="2.2" height="2.2"/>
<rect x="394.63" y="1369.21" width="2.2" height="2.2"/>
<rect x="395.26" y="1368.93" width="2.2" height="2.2"/>
<rect x="395.89" y="1368.66" width="2.2" height="2.2"/>
<rect x="396.53" y="1368.38" width="2.2" height="2.2"/>
<rect x="397.18" y="1368.1" width="2.2" height="2.2"/>
<rect x="397.82" y="1367.82" width="2.2" height="2.2"/>
<rect x="398.47" y="1367.54" width="2.2" height="2.2"/>
<rect x="399.12" y="1367.25" width="2.2" height="2.2"/>
<rect x="399.78" y="1366.96" width="2.2" height="2.2"/>
<rect x="400.44" y="1366.67" width="2.2" height="2.2"/>
<rect x="401.1" y="1366.38" width="2.2" height="2.2"/>
<rect x="401.76" y="1366.08" width="2.2" height="2.2"/>
<rect x="402.43" y="1365.78" width="2.2" height="2.2"/>
<rect x="403.11" y="1365.48" width="2.2" height="2.2"/>
<rect x="403.78" y="1365.18" width="2.2" height="2.2"/>
<rect x="404.46" y="1364.87" width="2.2" height="2.2"/>
<rect x="405.15" y="1364.56" width="2.2" height="2.2"/>
<rect x="405.84" y="1364.25" width="2.2" height="2.2"/>
<rect x="406.53" y="1363.94" width="2.2" height="2.2"/>
<rect x="407.22" y="1363.62" width="2.2" height="2.2"/>
<rect x="407.92" y="1363.3" width="2.2" height="2.2"/>
<rect x="408.62" y="1362.98" width="2.2" height="2.2"/>
<rect x="409.33" y="1362.66" width="2.2" height="2.2"/>
<rect x="410.04" y="1362.33" width="2.2" height="2.2"/>
<rect x="410.76" y="1362.01" width="2.2" height="2.2"/>
<rect x="411.47" y="1361.67" width="2.2" height="2.2"/>
<rect x="412.2" y="1361.34" width="2.2" height="2.2"/>
<rect x="412.92" y="1361" width="2.2" height="2.2"/>
<rect x="413.65" y="1360.66" width="2.2" height="2.2"/>
<rect x="414.39" y="1360.32" width="2.2" height="2.2"/>
<rect x="415.13" y="1359.97" width="2.2" height="2.2"/>
<rect x="415.87" y="1359.62" width="2.2" height="2.2"/>
<rect x="416.62" y="1359.26" width="2.2" height="2.2"/>
<rect x="417.37" y="1358.9" width="2.2" height="2.2"/>
<rect x="418.12" y="1358.54" width="2.2" height="2.2"/>
<rect x="418.88" y="1358.17" width="2.2" height="2.2"/>
<rect x="419.65" y="1357.79" width="2.2" height="2.2"/>
<rect x="420.41" y="1357.41" width="2.2" height="2.2"/>
<rect x="421.19" y="1357.03" width="2.2" height="2.2"/>
<rect x="421.96" y="1356.64" width="2.2" height="2.2"/>
<rect x="422.75" y="1356.24" width="2.2" height="2.2"/>
<rect x="423.53" y="1355.83" width="2.2" height="2.2"/>
<rect x="424.27" y="1355.37" width="2.3" height="2.3"/>
<rect x="425.87" y="1354.54" width="2.3" height="2.3"/>
<rect x="427.48" y="1353.68" width="2.3" height="2.3"/>
<rect x="429.12" y="1352.79" width="2.3" height="2.3"/>
<rect x="430.77" y="1351.89" width="2.3" height="2.3"/>
<rect x="432.44" y="1350.95" width="2.3" height="2.3"/>
<rect x="434.13" y="1350" width="2.3" height="2.3"/>
<rect x="435.85" y="1349.01" width="2.3" height="2.3"/>
<rect x="437.58" y="1348.01" width="2.3" height="2.3"/>
<rect x="439.34" y="1346.97" width="2.3" height="2.3"/>
<rect x="441.11" y="1345.91" width="2.3" height="2.3"/>
<rect x="442.91" y="1344.81" width="2.3" height="2.3"/>
<rect x="444.73" y="1343.68" width="2.3" height="2.3"/>
<rect x="446.57" y="1342.5" width="2.3" height="2.3"/>
<rect x="448.44" y="1341.26" width="2.3" height="2.3"/>
<rect x="450.33" y="1339.97" width="2.3" height="2.3"/>
<rect x="452.25" y="1338.6" width="2.3" height="2.3"/>
<rect x="454.19" y="1337.16" width="2.3" height="2.3"/>
<rect x="456.15" y="1335.62" width="2.3" height="2.3"/>
<rect x="458.14" y="1333.98" width="2.3" height="2.3"/>
<rect x="460.16" y="1332.21" width="2.3" height="2.3"/>
<rect x="462.2" y="1330.32" width="2.3" height="2.3"/>
<rect x="464.27" y="1328.26" width="2.3" height="2.3"/>
<rect x="466.37" y="1326.05" width="2.3" height="2.3"/>
<rect x="468.5" y="1323.64" width="2.3" height="2.3"/>
<rect x="470.65" y="1321.03" width="2.3" height="2.3"/>
<rect x="472.83" y="1318.23" width="2.3" height="2.3"/>
<rect x="475.05" y="1315.25" width="2.3" height="2.3"/>
<rect x="477.29" y="1312.13" width="2.3" height="2.3"/>
<rect x="479.57" y="1308.88" width="2.3" height="2.3"/>
<rect x="481.88" y="1305.55" width="2.3" height="2.3"/>
<rect x="484.22" y="1302.17" width="2.3" height="2.3"/>
<rect x="486.59" y="1298.78" width="2.3" height="2.3"/>
<rect x="489" y="1295.41" width="2.3" height="2.3"/>
<rect x="491.44" y="1292.06" width="2.3" height="2.3"/>
<rect x="493.92" y="1288.75" width="2.3" height="2.3"/>
<rect x="496.44" y="1285.48" width="2.3" height="2.3"/>
<rect x="498.99" y="1282.29" width="2.3" height="2.3"/>
<rect x="501.58" y="1279.16" width="2.3" height="2.3"/>
<rect x="504.21" y="1276.11" width="2.3" height="2.3"/>
<rect x="506.88" y="1273.14" width="2.3" height="2.3"/>
<rect x="509.59" y="1270.28" width="2.3" height="2.3"/>
<rect x="512.34" y="1267.5" width="2.3" height="2.3"/>
<rect x="515.13" y="1264.78" width="2.3" height="2.3"/>
<rect x="517.97" y="1262.12" width="2.3" height="2.3"/>
<rect x="520.85" y="1259.49" width="2.3" height="2.3"/>
<rect x="523.77" y="1256.88" width="2.3" height="2.3"/>
<rect x="526.75" y="1254.3" width="2.3" height="2.3"/>
<rect x="529.77" y="1251.73" width="2.3" height="2.3"/>
<rect x="532.84" y="1249.2" width="2.3" height="2.3"/>
<rect x="535.96" y="1246.7" width="2.3" height="2.3"/>
<rect x="539.13" y="1244.23" width="2.3" height="2.3"/>
<rect x="542.35" y="1241.79" width="2.3" height="2.3"/>
<rect x="545.63" y="1239.38" width="2.3" height="2.3"/>
<rect x="548.96" y="1237" width="2.3" height="2.3"/>
<rect x="552.35" y="1234.65" width="2.3" height="2.3"/>
<rect x="555.8" y="1232.33" width="2.3" height="2.3"/>
<rect x="559.31" y="1230.04" width="2.3" height="2.3"/>
<rect x="562.88" y="1227.78" width="2.3" height="2.3"/>
<rect x="566.51" y="1225.56" width="2.3" height="2.3"/>
<rect x="570.21" y="1223.38" width="2.3" height="2.3"/>
<rect x="573.97" y="1221.24" width="2.3" height="2.3"/>
<rect x="577.8" y="1219.15" width="2.3" height="2.3"/>
<rect x="580.91" y="1217.51" width="2.3" height="2.3"/>
<rect x="584.08" y="1215.9" width="2.3" height="2.3"/>
<rect x="587.28" y="1214.33" width="2.3" height="2.3"/>
<rect x="590.54" y="1212.8" width="2.3" height="2.3"/>
<rect x="593.84" y="1211.29" width="2.3" height="2.3"/>
<rect x="597.2" y="1209.78" width="2.3" height="2.3"/>
<rect x="600.6" y="1208.28" width="2.3" height="2.3"/>
<rect x="604.06" y="1206.76" width="2.3" height="2.3"/>
<rect x="607.57" y="1205.24" width="2.3" height="2.3"/>
<rect x="611.14" y="1203.7" width="2.3" height="2.3"/>
<rect x="614.76" y="1202.14" width="2.3" height="2.3"/>
<rect x="618.44" y="1200.54" width="2.3" height="2.3"/>
<rect x="622.18" y="1198.89" width="2.3" height="2.3"/>
<rect x="625.98" y="1197.21" width="2.3" height="2.3"/>
<rect x="629.84" y="1195.48" width="2.3" height="2.3"/>
<rect x="633.76" y="1193.7" width="2.3" height="2.3"/>
<rect x="637.75" y="1191.87" width="2.3" height="2.3"/>
<rect x="641.81" y="1189.97" width="2.3" height="2.3"/>
<rect x="645.93" y="1188" width="2.3" height="2.3"/>
<rect x="650.12" y="1185.94" width="2.3" height="2.3"/>
<rect x="654.39" y="1183.8" width="2.3" height="2.3"/>
<rect x="658.72" y="1181.58" width="2.3" height="2.3"/>
</g>
<line x1="469.2" y1="1301.3" x2="469.2" y2="1314" stroke="#0000ff" stroke-width="2.1" stroke-linecap="round"/>
<polygon points="469.2,1323.3 466.4,1312.6 472,1312.6" fill="#0000ff" stroke="#0000ff" stroke-width="0.9" stroke-linejoin="round"/>
<rect x="156.5" y="1412.5" width="196.5" height="161.5" fill="#fff" stroke="#404040" stroke-width="1"/>
<g stroke="#222" stroke-width="1" fill="none">
<line x1="157.11" y1="1574" x2="157.11" y2="1576"/>
<line x1="171.08" y1="1574" x2="171.08" y2="1577.2"/>
<line x1="185.05" y1="1574" x2="185.05" y2="1576"/>
<line x1="199.02" y1="1574" x2="199.02" y2="1577.2"/>
<line x1="212.99" y1="1574" x2="212.99" y2="1576"/>
<line x1="226.96" y1="1574" x2="226.96" y2="1577.2"/>
<line x1="240.93" y1="1574" x2="240.93" y2="1576"/>
<line x1="254.9" y1="1574" x2="254.9" y2="1577.2"/>
<line x1="268.87" y1="1574" x2="268.87" y2="1576"/>
<line x1="282.84" y1="1574" x2="282.84" y2="1577.2"/>
<line x1="296.81" y1="1574" x2="296.81" y2="1576"/>
<line x1="310.78" y1="1574" x2="310.78" y2="1577.2"/>
<line x1="324.75" y1="1574" x2="324.75" y2="1576"/>
<line x1="338.72" y1="1574" x2="338.72" y2="1577.2"/>
<line x1="352.69" y1="1574" x2="352.69" y2="1576"/>
<line x1="153.5" y1="1412.4" x2="156.5" y2="1412.4"/>
<line x1="154.7" y1="1449.65" x2="156.5" y2="1449.65"/>
<line x1="153.5" y1="1486.9" x2="156.5" y2="1486.9"/>
<line x1="154.7" y1="1524.15" x2="156.5" y2="1524.15"/>
<line x1="153.5" y1="1561.4" x2="156.5" y2="1561.4"/>
</g>
<text x="168.58" y="1591.8" font-size="16.6" text-anchor="middle">−6</text>
<text x="196.52" y="1591.8" font-size="16.6" text-anchor="middle">−4</text>
<text x="224.46" y="1591.8" font-size="16.6" text-anchor="middle">−2</text>
<text x="254.9" y="1591.8" font-size="16.6" text-anchor="middle">0</text>
<text x="282.84" y="1591.8" font-size="16.6" text-anchor="middle">2</text>
<text x="310.78" y="1591.8" font-size="16.6" text-anchor="middle">4</text>
<text x="338.72" y="1591.8" font-size="16.6" text-anchor="middle">6</text>
<text x="149.5" y="1417.6" font-size="14.5" text-anchor="end">0.0</text>
<text x="149.5" y="1492.1" font-size="14.5" text-anchor="end">−0.5</text>
<text x="149.5" y="1566.6" font-size="14.5" text-anchor="end">−1.0</text>
<text transform="translate(112.4,1497.8) rotate(-90)" font-size="14.5" text-anchor="middle">MR (%)</text>
<text x="252" y="1611" font-size="17" text-anchor="middle"><tspan class="it">μ</tspan><tspan font-size="11.5" dy="4">0</tspan><tspan class="it" dy="-4">H</tspan> (T)</text>
<clipPath id="cpM"><rect x="156.5" y="1412.5" width="198" height="161.5"/></clipPath>
<g clip-path="url(#cpM)">
<polyline points="255.32,1415.38 254.34,1421.34 254.48,1427.3 254.48,1429.83 253.08,1435.64 249.45,1435.05 247.91,1438.92 247.64,1442.5 238.69,1455.61 231.99,1460.83 225,1465.44 218.3,1469.47 211.17,1480.79 204.47,1494.95 197.34,1508.36 190.22,1516.55 183.51,1524.45 176.39,1544.12 169.4,1553.21 162.28,1566.91 157.95,1568.4" fill="none" stroke="#222" stroke-width="0.6" stroke-linejoin="round"/>
<polyline points="157.95,1568.4 165.07,1565.72 172.06,1561.85 178.76,1557.82 185.89,1544.86 193.01,1531.9 200.14,1523.26 207.26,1509.55 214.25,1499.71 221.37,1495.69 228.5,1485.11 235.62,1475.28 242.33,1471.26 247.5,1478.56 249.45,1467.38 252.11,1468.28 253.5,1467.23 254.34,1464.55 254.48,1462.32 254.62,1458.29" fill="none" stroke="#222" stroke-width="0.6" stroke-linejoin="round"/>
<polyline points="352.69,1559.76 344.73,1548.88 338.02,1553.5 331.04,1539.05 323.91,1529.51 316.79,1524.45 309.66,1512.98 302.96,1506.72 295.83,1491.37 288.29,1483.77 281.02,1473.94 274.18,1454.72 267.33,1447.12 261.61,1431.47 258.67,1416.87 256.86,1414.34" fill="none" stroke="#222" stroke-width="0.6" stroke-linejoin="round"/>
<polyline points="257.14,1415.38 261.05,1448.46 261.61,1463.81 270.69,1508.65 277.39,1512.68 284.52,1508.65 291.5,1513.42 298.21,1523.26 305.33,1533.84 312.88,1544.86 320,1546.05 326.99,1548.88 333.69,1558.72 340.82,1562.14 347.94,1559.76 352.69,1560.66" fill="none" stroke="#222" stroke-width="0.6" stroke-linejoin="round"/>
<g fill="#000">
<rect x="253.87" y="1413.93" width="2.9" height="2.9"/>
<rect x="252.89" y="1419.89" width="2.9" height="2.9"/>
<rect x="253.03" y="1425.85" width="2.9" height="2.9"/>
<rect x="253.03" y="1428.38" width="2.9" height="2.9"/>
<rect x="251.63" y="1434.19" width="2.9" height="2.9"/>
<rect x="248" y="1433.6" width="2.9" height="2.9"/>
<rect x="246.47" y="1437.47" width="2.9" height="2.9"/>
<rect x="246.19" y="1441.05" width="2.9" height="2.9"/>
<rect x="237.24" y="1454.16" width="2.9" height="2.9"/>
<rect x="230.54" y="1459.38" width="2.9" height="2.9"/>
<rect x="223.55" y="1463.99" width="2.9" height="2.9"/>
<rect x="216.85" y="1468.02" width="2.9" height="2.9"/>
<rect x="209.72" y="1479.34" width="2.9" height="2.9"/>
<rect x="203.02" y="1493.5" width="2.9" height="2.9"/>
<rect x="195.89" y="1506.91" width="2.9" height="2.9"/>
<rect x="188.77" y="1515.1" width="2.9" height="2.9"/>
<rect x="182.06" y="1523" width="2.9" height="2.9"/>
<rect x="174.94" y="1542.67" width="2.9" height="2.9"/>
<rect x="167.95" y="1551.76" width="2.9" height="2.9"/>
<rect x="160.83" y="1565.46" width="2.9" height="2.9"/>
<rect x="156.5" y="1566.95" width="2.9" height="2.9"/>
<rect x="156.5" y="1566.95" width="2.9" height="2.9"/>
<rect x="163.62" y="1564.27" width="2.9" height="2.9"/>
<rect x="170.61" y="1560.4" width="2.9" height="2.9"/>
<rect x="177.31" y="1556.37" width="2.9" height="2.9"/>
<rect x="184.44" y="1543.41" width="2.9" height="2.9"/>
<rect x="191.56" y="1530.45" width="2.9" height="2.9"/>
<rect x="198.69" y="1521.81" width="2.9" height="2.9"/>
<rect x="205.81" y="1508.1" width="2.9" height="2.9"/>
<rect x="212.8" y="1498.26" width="2.9" height="2.9"/>
<rect x="219.92" y="1494.24" width="2.9" height="2.9"/>
<rect x="227.05" y="1483.66" width="2.9" height="2.9"/>
<rect x="234.17" y="1473.83" width="2.9" height="2.9"/>
<rect x="240.88" y="1469.81" width="2.9" height="2.9"/>
<rect x="246.05" y="1477.11" width="2.9" height="2.9"/>
<rect x="248" y="1465.93" width="2.9" height="2.9"/>
<rect x="250.66" y="1466.83" width="2.9" height="2.9"/>
<rect x="252.05" y="1465.78" width="2.9" height="2.9"/>
<rect x="252.89" y="1463.1" width="2.9" height="2.9"/>
<rect x="253.03" y="1460.87" width="2.9" height="2.9"/>
<rect x="253.17" y="1456.84" width="2.9" height="2.9"/>
<rect x="351.24" y="1558.31" width="2.9" height="2.9"/>
<rect x="343.28" y="1547.43" width="2.9" height="2.9"/>
<rect x="336.57" y="1552.05" width="2.9" height="2.9"/>
<rect x="329.59" y="1537.6" width="2.9" height="2.9"/>
<rect x="322.46" y="1528.06" width="2.9" height="2.9"/>
<rect x="315.34" y="1523" width="2.9" height="2.9"/>
<rect x="308.21" y="1511.53" width="2.9" height="2.9"/>
<rect x="301.51" y="1505.27" width="2.9" height="2.9"/>
<rect x="294.38" y="1489.92" width="2.9" height="2.9"/>
<rect x="286.84" y="1482.32" width="2.9" height="2.9"/>
<rect x="279.57" y="1472.49" width="2.9" height="2.9"/>
<rect x="272.73" y="1453.27" width="2.9" height="2.9"/>
<rect x="265.88" y="1445.67" width="2.9" height="2.9"/>
<rect x="260.16" y="1430.02" width="2.9" height="2.9"/>
<rect x="257.22" y="1415.42" width="2.9" height="2.9"/>
<rect x="255.41" y="1412.89" width="2.9" height="2.9"/>
<rect x="255.69" y="1413.93" width="2.9" height="2.9"/>
<rect x="259.6" y="1447.01" width="2.9" height="2.9"/>
<rect x="260.16" y="1462.36" width="2.9" height="2.9"/>
<rect x="269.24" y="1507.2" width="2.9" height="2.9"/>
<rect x="275.94" y="1511.23" width="2.9" height="2.9"/>
<rect x="283.07" y="1507.2" width="2.9" height="2.9"/>
<rect x="290.05" y="1511.97" width="2.9" height="2.9"/>
<rect x="296.76" y="1521.81" width="2.9" height="2.9"/>
<rect x="303.88" y="1532.38" width="2.9" height="2.9"/>
<rect x="311.43" y="1543.41" width="2.9" height="2.9"/>
<rect x="318.55" y="1544.6" width="2.9" height="2.9"/>
<rect x="325.54" y="1547.43" width="2.9" height="2.9"/>
<rect x="332.24" y="1557.27" width="2.9" height="2.9"/>
<rect x="339.37" y="1560.69" width="2.9" height="2.9"/>
<rect x="346.49" y="1558.31" width="2.9" height="2.9"/>
<rect x="351.24" y="1559.21" width="2.9" height="2.9"/>
<rect x="254.85" y="1416.16" width="2.9" height="2.9"/>
<rect x="253.73" y="1418.4" width="2.9" height="2.9"/>
<rect x="252.33" y="1437.17" width="2.9" height="2.9"/>
<rect x="252.33" y="1441.05" width="2.9" height="2.9"/>
<rect x="247.58" y="1435.54" width="2.9" height="2.9"/>
<rect x="248.84" y="1431.81" width="2.9" height="2.9"/>
<rect x="256.52" y="1414.23" width="2.9" height="2.9"/>
<rect x="254.57" y="1412.74" width="2.9" height="2.9"/>
<rect x="252.61" y="1464.59" width="2.9" height="2.9"/>
</g></g>
<line x1="209.2" y1="1465.2" x2="198" y2="1477.24" stroke="#1f1fff" stroke-width="1.15"/>
<polygon points="194.6,1480.9 196.61,1475.94 199.4,1478.53" fill="#1f1fff"/>
<line x1="200.5" y1="1539.7" x2="210.96" y2="1528.02" stroke="#1f1fff" stroke-width="1.15"/>
<polygon points="214.3,1524.3 212.38,1529.29 209.55,1526.76" fill="#1f1fff"/>
<line x1="303.8" y1="1481.8" x2="291.37" y2="1468.9" stroke="#1f1fff" stroke-width="1.15"/>
<polygon points="287.9,1465.3 292.74,1467.58 290,1470.22" fill="#1f1fff"/>
<line x1="284.5" y1="1524.3" x2="295.71" y2="1536.43" stroke="#1f1fff" stroke-width="1.15"/>
<polygon points="299.1,1540.1 294.31,1537.72 297.1,1535.14" fill="#1f1fff"/>
<clipPath id="cpC"><rect x="98.6" y="1161" width="570.7" height="458.3"/></clipPath>
<g clip-path="url(#cpC)">
<g fill="#000">
<circle cx="98.6" cy="1173.64" r="3.3"/>
<circle cx="103.17" cy="1176.19" r="3.3"/>
<circle cx="107.73" cy="1179.09" r="3.3"/>
<circle cx="112.3" cy="1182.33" r="3.3"/>
<circle cx="116.86" cy="1186.78" r="3.3"/>
<circle cx="121.43" cy="1191.88" r="3.3"/>
<circle cx="125.99" cy="1196.58" r="3.3"/>
<circle cx="130.56" cy="1201.18" r="3.3"/>
<circle cx="135.12" cy="1205.78" r="3.3"/>
<circle cx="139.69" cy="1210.33" r="3.3"/>
<circle cx="144.26" cy="1214.6" r="3.3"/>
<circle cx="148.82" cy="1218.88" r="3.3"/>
<circle cx="153.39" cy="1223.16" r="3.3"/>
<circle cx="157.95" cy="1227.35" r="3.3"/>
<circle cx="162.52" cy="1231.43" r="3.3"/>
<circle cx="167.08" cy="1235.52" r="3.3"/>
<circle cx="171.65" cy="1239.61" r="3.3"/>
<circle cx="176.22" cy="1243.49" r="3.3"/>
<circle cx="180.78" cy="1247.3" r="3.3"/>
<circle cx="185.35" cy="1251.11" r="3.3"/>
<circle cx="189.91" cy="1254.91" r="3.3"/>
<circle cx="194.48" cy="1258.53" r="3.3"/>
<circle cx="199.04" cy="1262.15" r="3.3"/>
<circle cx="203.61" cy="1265.77" r="3.3"/>
<circle cx="208.17" cy="1269.51" r="3.3"/>
<circle cx="212.74" cy="1273.46" r="3.3"/>
<circle cx="217.31" cy="1277.41" r="3.3"/>
<circle cx="221.87" cy="1281.36" r="3.3"/>
<circle cx="226.44" cy="1285.21" r="3.3"/>
<circle cx="231" cy="1289.02" r="3.3"/>
<circle cx="235.57" cy="1292.83" r="3.3"/>
<circle cx="240.13" cy="1296.64" r="3.3"/>
<circle cx="244.7" cy="1300.58" r="3.3"/>
<circle cx="249.26" cy="1304.51" r="3.3"/>
<circle cx="253.83" cy="1308.44" r="3.3"/>
<circle cx="258.4" cy="1312.49" r="3.3"/>
<circle cx="262.96" cy="1316.84" r="3.3"/>
<circle cx="267.53" cy="1321.18" r="3.3"/>
<circle cx="272.09" cy="1325.53" r="3.3"/>
<circle cx="276.66" cy="1329.72" r="3.3"/>
<circle cx="281.22" cy="1333.82" r="3.3"/>
<circle cx="285.79" cy="1337.91" r="3.3"/>
<circle cx="290.36" cy="1342" r="3.3"/>
<circle cx="294.92" cy="1346.29" r="3.3"/>
<circle cx="299.49" cy="1350.63" r="3.3"/>
<circle cx="304.05" cy="1354.98" r="3.3"/>
<circle cx="308.62" cy="1359.72" r="3.3"/>
<circle cx="313.18" cy="1364.79" r="3.3"/>
<circle cx="317.75" cy="1369.86" r="3.3"/>
<circle cx="322.31" cy="1374.93" r="3.3"/>
<circle cx="326.88" cy="1379.77" r="3.3"/>
<circle cx="331.45" cy="1384.58" r="3.3"/>
<circle cx="336.01" cy="1389.39" r="3.3"/>
<circle cx="340.58" cy="1394.22" r="3.3"/>
<circle cx="345.14" cy="1399.11" r="3.3"/>
<circle cx="349.71" cy="1404.01" r="3.3"/>
<circle cx="354.27" cy="1408.91" r="3.3"/>
<circle cx="358.84" cy="1413.94" r="3.3"/>
<circle cx="363.4" cy="1419.09" r="3.3"/>
<circle cx="367.97" cy="1424.25" r="3.3"/>
<circle cx="372.54" cy="1429.4" r="3.3"/>
<circle cx="377.1" cy="1434.85" r="3.3"/>
<circle cx="381.67" cy="1440.35" r="3.3"/>
<circle cx="386.23" cy="1445.85" r="3.3"/>
<circle cx="390.8" cy="1451.29" r="3.3"/>
<circle cx="395.36" cy="1456.38" r="3.3"/>
<circle cx="399.93" cy="1461.47" r="3.3"/>
<circle cx="404.5" cy="1466.55" r="3.3"/>
<circle cx="409.06" cy="1471.69" r="3.3"/>
<circle cx="413.63" cy="1476.9" r="3.3"/>
<circle cx="418.19" cy="1482.11" r="3.3"/>
<circle cx="422.76" cy="1487.32" r="3.3"/>
<circle cx="427.32" cy="1492.22" r="3.3"/>
<circle cx="431.89" cy="1497.03" r="3.3"/>
<circle cx="436.45" cy="1501.84" r="3.3"/>
<circle cx="441.02" cy="1506.59" r="3.3"/>
<circle cx="445.59" cy="1510.88" r="3.3"/>
<circle cx="450.15" cy="1515.18" r="3.3"/>
<circle cx="454.72" cy="1518.22" r="3.3"/>
<circle cx="459.28" cy="1521.12" r="3.3"/>
<circle cx="463.85" cy="1524.02" r="3.3"/>
<circle cx="468.41" cy="1526.94" r="3.3"/>
<circle cx="472.98" cy="1529.41" r="3.3"/>
<circle cx="477.54" cy="1531.21" r="3.3"/>
<circle cx="482.11" cy="1533.08" r="3.3"/>
<circle cx="486.68" cy="1535.52" r="3.3"/>
<circle cx="491.24" cy="1537.96" r="3.3"/>
<circle cx="495.81" cy="1540.45" r="3.3"/>
<circle cx="500.37" cy="1542.94" r="3.3"/>
<circle cx="504.94" cy="1545.13" r="3.3"/>
<circle cx="509.5" cy="1546.93" r="3.3"/>
<circle cx="514.07" cy="1548.69" r="3.3"/>
<circle cx="518.64" cy="1550.22" r="3.3"/>
<circle cx="523.2" cy="1551.74" r="3.3"/>
<circle cx="527.77" cy="1553.27" r="3.3"/>
<circle cx="532.33" cy="1554.79" r="3.3"/>
<circle cx="536.9" cy="1556.88" r="3.3"/>
<circle cx="541.46" cy="1559.44" r="3.3"/>
<circle cx="546.03" cy="1561.76" r="3.3"/>
<circle cx="550.59" cy="1563.16" r="3.3"/>
<circle cx="555.16" cy="1563.84" r="3.3"/>
<circle cx="559.73" cy="1564.2" r="3.3"/>
<circle cx="564.29" cy="1565.47" r="3.3"/>
<circle cx="568.86" cy="1567.05" r="3.3"/>
<circle cx="573.42" cy="1568.46" r="3.3"/>
<circle cx="577.99" cy="1569.85" r="3.3"/>
<circle cx="582.55" cy="1571.11" r="3.3"/>
<circle cx="587.12" cy="1572.27" r="3.3"/>
<circle cx="591.68" cy="1573.43" r="3.3"/>
<circle cx="596.25" cy="1574.59" r="3.3"/>
<circle cx="600.82" cy="1575.55" r="3.3"/>
<circle cx="605.38" cy="1576.43" r="3.3"/>
<circle cx="609.95" cy="1577.31" r="3.3"/>
<circle cx="614.51" cy="1578.19" r="3.3"/>
<circle cx="619.08" cy="1579.05" r="3.3"/>
<circle cx="623.64" cy="1579.92" r="3.3"/>
<circle cx="628.21" cy="1580.78" r="3.3"/>
<circle cx="632.78" cy="1581.64" r="3.3"/>
<circle cx="637.34" cy="1582.38" r="3.3"/>
<circle cx="641.91" cy="1583.13" r="3.3"/>
<circle cx="646.47" cy="1583.88" r="3.3"/>
<circle cx="651.04" cy="1584.6" r="3.3"/>
<circle cx="655.6" cy="1585.22" r="3.3"/>
<circle cx="660.17" cy="1585.83" r="3.3"/>
<circle cx="664.73" cy="1586.45" r="3.3"/>
<circle cx="669.3" cy="1587.06" r="3.3"/>
</g>
<g fill="#fa0000">
<circle cx="98.6" cy="1172.68" r="3.3"/>
<circle cx="100.43" cy="1173.36" r="3.3"/>
<circle cx="104.99" cy="1175.06" r="3.3"/>
<circle cx="109.56" cy="1177.56" r="3.3"/>
<circle cx="114.12" cy="1180.2" r="3.3"/>
<circle cx="118.69" cy="1183.93" r="3.3"/>
<circle cx="123.25" cy="1187.82" r="3.3"/>
<circle cx="127.82" cy="1192.36" r="3.3"/>
<circle cx="132.39" cy="1196.91" r="3.3"/>
<circle cx="136.95" cy="1201.45" r="3.3"/>
<circle cx="141.52" cy="1205.73" r="3.3"/>
<circle cx="146.08" cy="1209.78" r="3.3"/>
<circle cx="150.65" cy="1213.83" r="3.3"/>
<circle cx="155.21" cy="1217.88" r="3.3"/>
<circle cx="159.78" cy="1222.2" r="3.3"/>
<circle cx="164.34" cy="1226.56" r="3.3"/>
<circle cx="168.91" cy="1230.92" r="3.3"/>
<circle cx="173.48" cy="1235.18" r="3.3"/>
<circle cx="178.04" cy="1238.81" r="3.3"/>
<circle cx="182.61" cy="1242.45" r="3.3"/>
<circle cx="187.17" cy="1246.09" r="3.3"/>
<circle cx="191.74" cy="1249.47" r="3.3"/>
<circle cx="196.3" cy="1252.55" r="3.3"/>
<circle cx="200.87" cy="1255.62" r="3.3"/>
<circle cx="205.44" cy="1258.69" r="3.3"/>
<circle cx="210" cy="1261.49" r="3.3"/>
<circle cx="214.57" cy="1269.22" r="3.3"/>
<circle cx="219.13" cy="1271.8" r="3.3"/>
<circle cx="223.7" cy="1274.46" r="3.3"/>
<circle cx="228.26" cy="1277.84" r="3.3"/>
<circle cx="232.83" cy="1281.22" r="3.3"/>
<circle cx="237.39" cy="1284.6" r="3.3"/>
<circle cx="241.96" cy="1288.26" r="3.3"/>
<circle cx="246.53" cy="1292.35" r="3.3"/>
<circle cx="251.09" cy="1296.44" r="3.3"/>
<circle cx="255.66" cy="1300.52" r="3.3"/>
<circle cx="260.22" cy="1304.8" r="3.3"/>
<circle cx="264.79" cy="1309.16" r="3.3"/>
<circle cx="269.35" cy="1313.53" r="3.3"/>
<circle cx="273.92" cy="1317.89" r="3.3"/>
<circle cx="278.48" cy="1322.21" r="3.3"/>
<circle cx="283.05" cy="1326.54" r="3.3"/>
<circle cx="287.62" cy="1330.87" r="3.3"/>
<circle cx="292.18" cy="1335.28" r="3.3"/>
<circle cx="296.75" cy="1340.18" r="3.3"/>
<circle cx="301.31" cy="1345.09" r="3.3"/>
<circle cx="305.88" cy="1349.99" r="3.3"/>
<circle cx="310.44" cy="1355.05" r="3.3"/>
<circle cx="315.01" cy="1360.12" r="3.3"/>
<circle cx="319.58" cy="1365.19" r="3.3"/>
<circle cx="324.14" cy="1370.24" r="3.3"/>
<circle cx="328.71" cy="1375.24" r="3.3"/>
<circle cx="333.27" cy="1380.24" r="3.3"/>
<circle cx="337.84" cy="1385.24" r="3.3"/>
<circle cx="342.4" cy="1390.23" r="3.3"/>
<circle cx="346.97" cy="1395.21" r="3.3"/>
<circle cx="351.53" cy="1400.2" r="3.3"/>
<circle cx="356.1" cy="1405.18" r="3.3"/>
<circle cx="360.67" cy="1410.49" r="3.3"/>
<circle cx="365.23" cy="1415.84" r="3.3"/>
<circle cx="369.8" cy="1421.19" r="3.3"/>
<circle cx="374.36" cy="1426.56" r="3.3"/>
<circle cx="378.93" cy="1431.99" r="3.3"/>
<circle cx="383.49" cy="1437.42" r="3.3"/>
<circle cx="388.06" cy="1442.85" r="3.3"/>
<circle cx="392.62" cy="1448.35" r="3.3"/>
<circle cx="397.19" cy="1453.9" r="3.3"/>
<circle cx="401.76" cy="1459.46" r="3.3"/>
<circle cx="406.32" cy="1465.01" r="3.3"/>
<circle cx="410.89" cy="1470.27" r="3.3"/>
<circle cx="415.45" cy="1475.48" r="3.3"/>
<circle cx="420.02" cy="1480.68" r="3.3"/>
<circle cx="424.58" cy="1485.96" r="3.3"/>
<circle cx="429.15" cy="1491.64" r="3.3"/>
<circle cx="433.72" cy="1497.32" r="3.3"/>
<circle cx="438.28" cy="1503" r="3.3"/>
<circle cx="442.85" cy="1507.83" r="3.3"/>
<circle cx="447.41" cy="1512.09" r="3.3"/>
<circle cx="451.98" cy="1515.96" r="3.3"/>
<circle cx="456.54" cy="1519.23" r="3.3"/>
<circle cx="461.11" cy="1522.49" r="3.3"/>
<circle cx="465.67" cy="1525.56" r="3.3"/>
<circle cx="470.24" cy="1528.64" r="3.3"/>
<circle cx="474.81" cy="1530.72" r="3.3"/>
<circle cx="479.37" cy="1532.55" r="3.3"/>
<circle cx="483.94" cy="1534.81" r="3.3"/>
<circle cx="488.5" cy="1537.5" r="3.3"/>
<circle cx="493.07" cy="1540.24" r="3.3"/>
<circle cx="497.63" cy="1543.3" r="3.3"/>
<circle cx="502.2" cy="1546.35" r="3.3"/>
<circle cx="506.76" cy="1548.71" r="3.3"/>
<circle cx="511.33" cy="1550.96" r="3.3"/>
<circle cx="515.9" cy="1552.57" r="3.3"/>
<circle cx="520.46" cy="1553.65" r="3.3"/>
<circle cx="525.03" cy="1554.84" r="3.3"/>
<circle cx="529.59" cy="1556.37" r="3.3"/>
<circle cx="534.16" cy="1557.89" r="3.3"/>
<circle cx="538.72" cy="1561.05" r="3.3"/>
<circle cx="543.29" cy="1564.29" r="3.3"/>
<circle cx="547.86" cy="1564.82" r="3.3"/>
<circle cx="552.42" cy="1565.25" r="3.3"/>
<circle cx="556.99" cy="1564.73" r="3.3"/>
<circle cx="561.55" cy="1564.56" r="3.3"/>
<circle cx="566.12" cy="1566.41" r="3.3"/>
<circle cx="570.68" cy="1568.25" r="3.3"/>
<circle cx="575.25" cy="1570.08" r="3.3"/>
<circle cx="579.81" cy="1571.91" r="3.3"/>
<circle cx="584.38" cy="1573.14" r="3.3"/>
<circle cx="588.95" cy="1574.33" r="3.3"/>
<circle cx="593.51" cy="1575.52" r="3.3"/>
<circle cx="598.08" cy="1576.69" r="3.3"/>
<circle cx="602.64" cy="1577.6" r="3.3"/>
<circle cx="607.21" cy="1578.51" r="3.3"/>
<circle cx="611.77" cy="1579.42" r="3.3"/>
<circle cx="616.34" cy="1580.34" r="3.3"/>
<circle cx="620.9" cy="1581.25" r="3.3"/>
<circle cx="625.47" cy="1582.16" r="3.3"/>
<circle cx="630.04" cy="1583.07" r="3.3"/>
<circle cx="634.6" cy="1583.93" r="3.3"/>
<circle cx="639.17" cy="1584.73" r="3.3"/>
<circle cx="643.73" cy="1585.53" r="3.3"/>
<circle cx="648.3" cy="1586.32" r="3.3"/>
<circle cx="652.86" cy="1587.15" r="3.3"/>
<circle cx="657.43" cy="1588.01" r="3.3"/>
<circle cx="662" cy="1588.87" r="3.3"/>
<circle cx="666.56" cy="1589.74" r="3.3"/>
</g></g>
<line x1="441.4" y1="1436" x2="441.4" y2="1462" stroke="#0000ff" stroke-width="4.2" stroke-linecap="round"/>
<polygon points="441.4,1484.6 434.3,1460.5 448.5,1460.5" fill="#0000ff" stroke="#0000ff" stroke-width="2" stroke-linejoin="round"/>
<rect x="521.5" y="1481.2" width="141.7" height="56.2" fill="#fff" stroke="#222" stroke-width="1"/>
<line x1="524.5" y1="1496.5" x2="573" y2="1496.5" stroke="#000" stroke-width="1"/><circle cx="548.7" cy="1496.5" r="3.2" fill="#000"/>
<line x1="524.5" y1="1523.4" x2="573" y2="1523.4" stroke="#f00" stroke-width="1"/><circle cx="548.7" cy="1523.4" r="3.2" fill="#f00000"/>
<text x="578.8" y="1503.2" font-size="20">Cooling</text>
<text x="578.8" y="1530.2" font-size="20">Warming</text>
<rect x="98.6" y="1161" width="570.7" height="458.3" fill="none" stroke="#000" stroke-width="1.85"/>
<g stroke="#000" stroke-width="1.85" fill="none">
<line x1="98.6" y1="1619.3" x2="98.6" y2="1628.3"/>
<line x1="155.67" y1="1619.3" x2="155.67" y2="1624.3"/>
<line x1="212.74" y1="1619.3" x2="212.74" y2="1628.3"/>
<line x1="269.81" y1="1619.3" x2="269.81" y2="1624.3"/>
<line x1="326.88" y1="1619.3" x2="326.88" y2="1628.3"/>
<line x1="383.95" y1="1619.3" x2="383.95" y2="1624.3"/>
<line x1="441.02" y1="1619.3" x2="441.02" y2="1628.3"/>
<line x1="498.09" y1="1619.3" x2="498.09" y2="1624.3"/>
<line x1="555.16" y1="1619.3" x2="555.16" y2="1628.3"/>
<line x1="612.23" y1="1619.3" x2="612.23" y2="1624.3"/>
<line x1="669.3" y1="1619.3" x2="669.3" y2="1628.3"/>
<line x1="89.1" y1="1587.7" x2="98.6" y2="1587.7"/>
<line x1="93.1" y1="1523.9" x2="98.6" y2="1523.9"/>
<line x1="89.1" y1="1460.1" x2="98.6" y2="1460.1"/>
<line x1="93.1" y1="1396.3" x2="98.6" y2="1396.3"/>
<line x1="89.1" y1="1332.5" x2="98.6" y2="1332.5"/>
<line x1="93.1" y1="1268.7" x2="98.6" y2="1268.7"/>
<line x1="89.1" y1="1204.9" x2="98.6" y2="1204.9"/>
</g>
<text x="98.6" y="1651.6" font-size="20.4" text-anchor="middle">150</text>
<text x="212.74" y="1651.6" font-size="20.4" text-anchor="middle">200</text>
<text x="326.88" y="1651.6" font-size="20.4" text-anchor="middle">250</text>
<text x="441.02" y="1651.6" font-size="20.4" text-anchor="middle">300</text>
<text x="555.16" y="1651.6" font-size="20.4" text-anchor="middle">350</text>
<text x="669.3" y="1651.6" font-size="20.4" text-anchor="middle">400</text>
<text x="81.5" y="1211.1" font-size="20.4" text-anchor="end">2</text>
<text x="81.5" y="1338.7" font-size="20.4" text-anchor="end">0</text>
<text x="81.5" y="1466.3" font-size="20.4" text-anchor="end">−2</text>
<text x="81.5" y="1593.9" font-size="20.4" text-anchor="end">−4</text>
<text x="384.8" y="1681.3" font-size="20.4" text-anchor="middle"><tspan class="it">T</tspan> (K)</text>
<text transform="translate(40.8,1396) rotate(-90)" font-size="20.4" text-anchor="middle">log (<tspan class="it">ρ</tspan>/Ω cm)</text>
<text x="-0.3" y="1165.2" font-size="29.7" font-weight="bold" fill="#000">c</text>
</g>
</svg>
</body></html>
